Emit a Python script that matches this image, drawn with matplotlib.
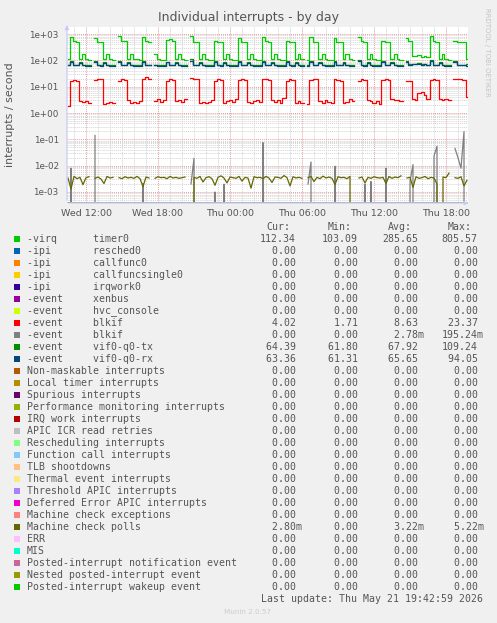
import numpy as np
import pandas as pd
import matplotlib
matplotlib.use("Agg")
import matplotlib.pyplot as plt
import matplotlib.dates as mdates
from matplotlib.patches import Rectangle
from matplotlib.ticker import LogLocator, NullFormatter, FuncFormatter

nan = np.nan

# 15 minute samples, Wed 10:30 -> Thu 19:45
sample_start = "2026-05-20 10:30"
sample_step = "15min"

timer0 = [108,
          760, 520, 510, 115, 175, 108, 106, nan,
          680, 510, 500, 112, 180, 110, 105, nan,
          820, 540, 530, 110, 170, 112, 108, 104,
          790, 520, 505, nan, 170, 110, 106, 104,
          600, 620, 560, 115, 180, 110, 107, nan,
          805, 510, 500, 110, 175, 108, 105, 104,
          520, 510, 500, 112, 180, 110, 106, 104,
          680, 510, 505, 115, 170, 110, 106, 105,
          760, 520, 505, 112, 180, 108, 105, 104,
          520, 505, 500, 115, 175, 108, nan, 105,
          740, 515, 505, 112, 170, 108, 106, 104,
          730, 510, 500, 115, 180, 110, 106, nan,
          790, 520, 505, 112, 175, 108, 105, 104,
          520, 510, 500, 115, 170, 108, 106, nan,
          700, 520, 150, 140, 165, 130, 150, 135,
          805, 520, 510, 112, 175, 108, 106, nan,
          520, 515, 505, 500, 112]

blkif_a = [1.9,
           17, 18, 16, 2.8, 2.6, 2.9, 2.5, nan,
           18, 20, 19, 2.2, 2.3, 2.6, 2.4, nan,
           16, 19, 18, 3.0, 2.5, 2.7, 2.4, 2.9,
           19, 23.4, 20, nan, 2.8, 3.3, 2.6, 3.0,
           17, 19, 18, 2.9, 3.2, 2.6, 3.4, nan,
           21, 20, 19, 2.4, 2.7, 2.3, 2.6, 3.1,
           17, 19, 18.5, 2.5, 2.9, 3.2, 2.6, 3.5,
           18, 19, 18, 2.6, 2.4, 2.8, 3.0, 2.7,
           19, 20, 18, 3.2, 2.6, 3.0, 2.5, 3.6,
           16, 19, 18, 2.5, 2.8, 2.4, nan, 2.2,
           18, 20, 19, 2.9, 2.5, 3.1, 2.6, 2.4,
           19, 18, 17, 2.5, 2.7, 3.4, 2.8, nan,
           17, 19, 18, 3.0, 2.8, 2.5, 2.9, 2.2,
           18, 20, 18, 3.5, 3.0, 3.2, 2.9, nan,
           17, 16, 3.4, 3.2, 5.6, 6.2, 5.0, 3.3,
           18, 19, 18.5, 3.3, 3.1, 3.5, 3.2, nan,
           19, 20, 19, 18, 4.02]

blkif_b = [0,
           0.008, 0, 0, 0, 0, 0, 0, nan,
           0.14, 0, 0, 0, 0, 0, 0, nan,
           0, 0, 0, 0, 0, 0, 0, 0,
           0.0021, 0, 0, nan, 0, 0, 0, 0,
           0, 0, 0, 0, 0, 0, 0, nan,
           0.002, 0.019, 0, 0, 0, 0, 0, 0,
           0.001, 0, 0, 0.002, 0, 0, 0, 0,
           0, 0, 0, 0, 0, 0, 0, 0,
           0.075, 0, 0, 0, 0, 0, 0, 0,
           0, 0, 0, 0, 0, 0, nan, 0.002,
           0.0138, 0, 0, 0, 0, 0, 0, 0,
           0.0095, 0, 0, 0, 0, 0, 0, nan,
           0, 0, 0.002, 0, 0.0025, 0, 0, 0,
           0, 0.008, 0, 0, 0, 0, 0, nan,
           0, 0.0025, 0.011, 0, 0, 0, 0, 0,
           0, 0.023, 0.055, 0, 0, 0, 0, nan,
           0.045, 0.02, 0.008, 0.195, 0]

vif_tx = [66,
          95, 68, 66, 85, 67, 65, 64, nan,
          92, 67, 65, 88, 66, 64, 65, nan,
          98, 68, 66, 84, 67, 65, 64, 65,
          94, 67, 66, nan, 66, 64, 65, 64,
          90, 68, 66, 86, 67, 65, 64, nan,
          109, 68, 66, 85, 66, 64, 65, 64,
          93, 67, 65, 84, 67, 65, 64, 65,
          96, 68, 66, 87, 66, 64, 65, 64,
          95, 67, 66, 85, 67, 65, 64, 65,
          92, 68, 65, 84, 66, 64, nan, 64,
          97, 67, 66, 86, 67, 65, 64, 65,
          94, 68, 66, 85, 66, 64, 65, nan,
          99, 67, 65, 84, 67, 65, 64, 65,
          93, 68, 66, 86, 66, 64, 65, nan,
          96, 70, 75, 72, 78, 70, 74, 68,
          101, 67, 66, 85, 67, 65, 64, nan,
          94, 68, 66, 66, 70]

vif_rx = [64,
          88, 66, 64, 80, 65, 63, 62, nan,
          86, 65, 63, 82, 64, 62, 63, nan,
          90, 66, 64, 79, 65, 63, 62, 63,
          87, 65, 64, nan, 64, 62, 63, 62,
          84, 66, 64, 81, 65, 63, 62, nan,
          94, 66, 64, 80, 64, 62, 63, 62,
          86, 65, 63, 79, 65, 63, 62, 63,
          89, 66, 64, 82, 64, 62, 63, 62,
          88, 65, 64, 80, 65, 63, 62, 63,
          85, 66, 63, 79, 64, 62, nan, 62,
          90, 65, 64, 81, 65, 63, 62, 63,
          87, 66, 64, 80, 64, 62, 63, nan,
          91, 65, 63, 79, 65, 63, 62, 63,
          86, 66, 64, 81, 64, 62, 63, nan,
          89, 68, 72, 70, 75, 68, 71, 66,
          93, 65, 64, 80, 65, 63, 62, nan,
          87, 66, 64, 64, 63]

# machine check polls, in milli
mc_polls_m = [3.4, 1.3, 3.9, 3.2, 3.6, 1.9, 3.5, 3.8, nan,
              3.3, 3.7, 3.1, 2.1, 3.9, 3.4, 3.6, nan,
              3.5, 3.2, 3.8, 3.4, 3.6, 3.3, 3.9, 3.2, 1.6, 3.7, 3.4, nan,
              3.3, 3.8, 3.5, 3.6, 3.2, 3.9, 3.4, 3.6, 3.3, 3.5, 3.7, nan,
              0, 3.6, 3.3, 3.9, 2.4, 3.5, 3.8,
              3.2, 1.8, 3.6, 4.1, 3.4, 2.2, 3.7, 3.5,
              3.3, 3.9, 2.6, 3.6, 3.4, 1.4, 3.8, 3.5,
              3.6, 3.2, 3.9, 3.4, 2.3, 3.7, 3.6, 3.3,
              4.2, 3.5, 1.7, 3.8, 3.4, 3.6, 3.3, nan,
              3.5, 3.9, 2.5, 3.6, 3.2, 4.0, 3.4, 3.7,
              3.3, 1.9, 3.8, 3.5, 3.6, 3.2, 3.9, 0, nan,
              3.4, 3.7, 2.2, 3.6, 3.3, 3.8, 3.5, 3.4,
              3.6, 2.1, 3.9, 3.3, 3.7, 3.5, 4.1, nan,
              3.4, 3.6, 1.5, 3.8, 3.3, 3.5, 3.9, 3.2,
              3.6, 3.4, 2.0, 0, 3.7, 3.5, 5.2, nan,
              3.5, 3.3, 3.8, 1.7, 2.8]

legend_labels = ["-virq      timer0", "-ipi       resched0", "-ipi       callfunc0",
                 "-ipi       callfuncsingle0", "-ipi       irqwork0", "-event     xenbus",
                 "-event     hvc_console", "-event     blkif", "-event     blkif",
                 "-event     vif0-q0-tx", "-event     vif0-q0-rx",
                 "Non-maskable interrupts", "Local timer interrupts", "Spurious interrupts",
                 "Performance monitoring interrupts", "IRQ work interrupts",
                 "APIC ICR read retries", "Rescheduling interrupts", "Function call interrupts",
                 "TLB shootdowns", "Thermal event interrupts", "Threshold APIC interrupts",
                 "Deferred Error APIC interrupts", "Machine check exceptions",
                 "Machine check polls", "ERR", "MIS", "Posted-interrupt notification event",
                 "Nested posted-interrupt event", "Posted-interrupt wakeup event"]
legend_colors = ["#00CC00", "#0066B3", "#FF8000", "#FFCC00", "#330099", "#990099",
                 "#CCFF00", "#FF0000", "#808080", "#008F00", "#00487D", "#B35A00",
                 "#B38F00", "#6B006B", "#8FB300", "#B30000", "#BEBEBE", "#80FF80",
                 "#80C9FF", "#FFC080", "#FFE680", "#AA80FF", "#EE00CC", "#FF8080",
                 "#666600", "#FFBFFF", "#00FFCC", "#CC6699", "#999900", "#00CC00"]

cur_vals = [112.34, 0, 0, 0, 0, 0, 0, 4.02, 0, 64.39, 63.36] + [0] * 13 + [2.80e-3] + [0] * 5
min_vals = [103.09, 0, 0, 0, 0, 0, 0, 1.71, 0, 61.80, 61.31] + [0] * 13 + [0] + [0] * 5
avg_vals = [285.65, 0, 0, 0, 0, 0, 0, 8.63, 2.78e-3, 67.92, 65.65] + [0] * 13 + [3.22e-3] + [0] * 5
max_vals = [805.57, 0, 0, 0, 0, 0, 0, 23.37, 195.24e-3, 109.24, 94.05] + [0] * 13 + [5.22e-3] + [0] * 5

tick_hours = [0, 6, 12, 18]
last_update = "Last update: Thu May 21 19:42:59 2026"

W, H = 497, 623
text_col = "#555555"


def fmt(v):
    if v != 0 and abs(v) < 1:
        return f"{v * 1000:6.2f}m"
    return f"{v:6.2f}"


times = pd.date_range(sample_start, periods=len(timer0), freq=sample_step)
n = len(times)
zero = np.zeros(n)

fig = plt.figure(figsize=(W / 100, H / 100), dpi=100, facecolor="#f0f0f0")
ax = fig.add_axes([67 / W, 1 - 203 / H, 401 / W, 176 / H])
ax.set_facecolor("white")
ax.set_yscale("log", nonpositive="clip")
ylo, yhi = 3.82e-4, 1846
ax.set_ylim(ylo, yhi)
ax.set_xlim(pd.Timestamp("2026-05-20 10:25"), pd.Timestamp("2026-05-21 19:50"))

series = {0: timer0, 7: blkif_a, 8: blkif_b, 9: vif_tx, 10: vif_rx,
          24: np.array(mc_polls_m) / 1000.0}
stepped = {0, 7, 9, 10}
for i, col in enumerate(legend_colors):
    if i in series:
        vals = np.array(series[i], dtype=float)
    else:
        # all-zero series sit on the bottom edge
        vals = np.clip(zero, ylo, None)
    ds = "steps-mid" if i in stepped else "default"
    ax.plot(times, vals, color=col, lw=0.9, zorder=3, drawstyle=ds)

ax.yaxis.set_major_locator(LogLocator(base=10, numticks=20))
ax.yaxis.set_minor_locator(LogLocator(base=10, subs=range(2, 10), numticks=20))
ax.yaxis.set_major_formatter(FuncFormatter(lambda v, p: f"{v:.0e}"))
ax.yaxis.set_minor_formatter(NullFormatter())
ax.xaxis.set_major_locator(mdates.HourLocator(byhour=tick_hours))
ax.xaxis.set_minor_locator(mdates.HourLocator())
ax.xaxis.set_major_formatter(mdates.DateFormatter("%a %H:%M"))

ax.grid(which="minor", color="#d4d4d4", linestyle=(0, (1, 1)), lw=0.7)
ax.grid(which="major", color="#eaa0a0", linestyle=(0, (1, 1)), lw=0.7)
ax.set_axisbelow(True)
ax.tick_params(which="both", length=0, colors=text_col)
ax.tick_params(axis="y", labelsize=6.3, pad=6)
ax.tick_params(axis="x", labelsize=6.8, pad=4)
for s in ax.spines.values():
    s.set_visible(False)

axis_col = "#c8ccf4"
ax.annotate("", xy=(0, 1.028), xytext=(0, 0), xycoords="axes fraction",
            arrowprops=dict(arrowstyle="-|>", color=axis_col, lw=0.9, mutation_scale=6),
            annotation_clip=False)
ax.annotate("", xy=(1.009, 0), xytext=(0, 0), xycoords="axes fraction",
            arrowprops=dict(arrowstyle="-|>", color=axis_col, lw=0.9, mutation_scale=6),
            annotation_clip=False)

fig.text(0.5, 1 - 18 / H, "Individual interrupts - by day", ha="center", va="center",
         fontsize=9, color=text_col)
fig.text(10 / W, 1 - 115 / H, "interrupts / second", rotation=90, ha="center", va="center",
         fontsize=7.9, color=text_col)
fig.text(487 / W, 1 - 52 / H, "RRDTOOL / TOBI OETIKER", rotation=270, ha="center",
         va="center", fontsize=5, color="#c4c4c4")

mono = "DejaVu Sans Mono"
fs = 7.15
col_x = [260, 322, 382, 441.7]
for x, h in zip(col_x, ["Cur:", "Min:", "Avg:", "Max:"]):
    fig.text((x + 6) / W, 1 - 227 / H, h, ha="left", va="center", family=mono,
             fontsize=fs, color=text_col)

for k, (lab, col) in enumerate(zip(legend_labels, legend_colors)):
    y = 239 + 12 * k
    fig.patches.append(Rectangle((14 / W, 1 - (y + 3) / H), 6 / W, 6 / H,
                                 transform=fig.transFigure, facecolor=col, edgecolor="none"))
    fig.text(26.7 / W, 1 - y / H, lab, ha="left", va="center", family=mono,
             fontsize=fs, color=text_col)
    for x, vals in zip(col_x, [cur_vals, min_vals, avg_vals, max_vals]):
        fig.text(x / W, 1 - y / H, fmt(vals[k]), ha="left", va="center", family=mono,
                 fontsize=fs, color=text_col)

fig.text(483 / W, 1 - 599 / H, last_update, ha="right", va="center", family=mono,
         fontsize=fs, color=text_col)
fig.text(247.5 / W, 1 - 612 / H, "Munin 2.0.57", ha="center", va="center",
         fontsize=5.2, color="#cccccc")

fig.savefig("out.png", dpi=100, facecolor=fig.get_facecolor())
